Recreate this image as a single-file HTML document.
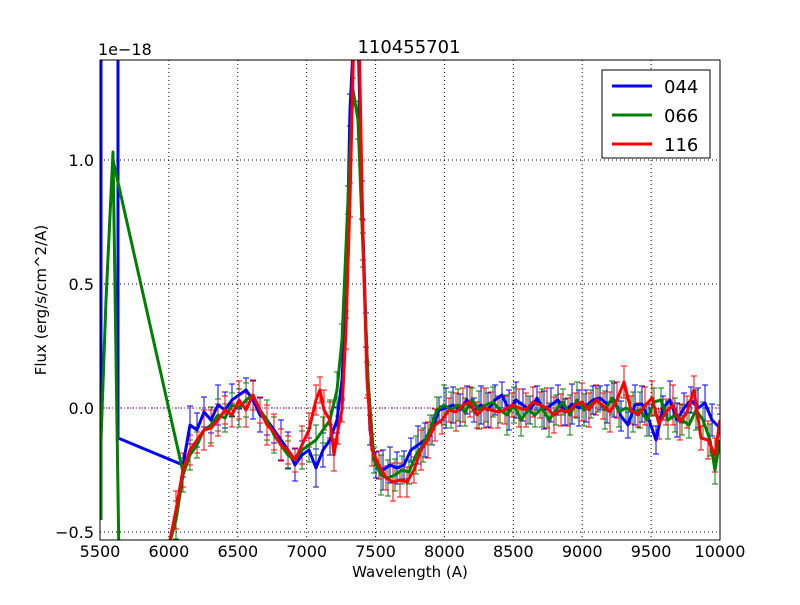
<!DOCTYPE html>
<html><head><meta charset="utf-8"><style>
body{margin:0;background:#fff;}
svg text{font-family:"DejaVu Sans","Liberation Sans",sans-serif;}
</style></head><body>
<svg id="s" width="800" height="600" xmlns="http://www.w3.org/2000/svg">
<rect width="800" height="600" fill="#fff"/>
<defs><clipPath id="c"><rect x="100" y="60" width="620" height="480"/></clipPath></defs>
<g stroke="#000" stroke-width="1" stroke-dasharray="1,3">
<line x1="168.9" y1="60" x2="168.9" y2="540"/><line x1="237.8" y1="60" x2="237.8" y2="540"/>
<line x1="306.7" y1="60" x2="306.7" y2="540"/><line x1="375.6" y1="60" x2="375.6" y2="540"/>
<line x1="444.4" y1="60" x2="444.4" y2="540"/><line x1="513.3" y1="60" x2="513.3" y2="540"/>
<line x1="582.2" y1="60" x2="582.2" y2="540"/><line x1="651.1" y1="60" x2="651.1" y2="540"/>
<line x1="100" y1="160" x2="720" y2="160"/><line x1="100" y1="284" x2="720" y2="284"/>
<line x1="100" y1="408" x2="720" y2="408"/><line x1="100" y1="532" x2="720" y2="532"/>
</g>
<g clip-path="url(#c)" id="plot">
<line x1="100" y1="408" x2="720" y2="408" stroke="#00f" stroke-dasharray="1,2"/>
<line x1="100" y1="408" x2="720" y2="408" stroke="#f00" stroke-dasharray="1,3"/>
</g>
<rect x="100" y="60" width="620" height="480" fill="none" stroke="#000"/>
<g font-size="16" text-anchor="middle" fill="#000">
<text x="100" y="557">5500</text><text x="168.9" y="557">6000</text><text x="237.8" y="557">6500</text>
<text x="306.7" y="557">7000</text><text x="375.6" y="557">7500</text><text x="444.4" y="557">8000</text>
<text x="513.3" y="557">8500</text><text x="582.2" y="557">9000</text><text x="651.1" y="557">9500</text>
<text x="720" y="557">10000</text>
<text x="410" y="577" font-size="15">Wavelength (A)</text>
<text x="409" y="53" font-size="18">110455701</text>
</g>
<g font-size="16" text-anchor="end">
<text x="94" y="166">1.0</text><text x="94" y="290">0.5</text><text x="94" y="414">0.0</text><text x="94" y="538">−0.5</text>
</g>
<text x="98" y="55" font-size="16">1e−18</text>
<text transform="translate(46,300) rotate(-90)" font-size="15" text-anchor="middle">Flux (erg/s/cm^2/A)</text>
<rect x="602" y="70" width="108" height="88" fill="#fff" stroke="#000"/>
<line x1="612" y1="86" x2="652" y2="86" stroke="#00f" stroke-width="3"/>
<line x1="612" y1="115" x2="652" y2="115" stroke="#008000" stroke-width="3"/>
<line x1="612" y1="144" x2="652" y2="144" stroke="#f00" stroke-width="3"/>
<g font-size="18"><text x="664" y="93">044</text><text x="664" y="122">066</text><text x="664" y="151">116</text></g>
</svg>
<script>
var B=[[101,470],[101,0],[108,-400],[114,0],[118,60],[118,438],[183,465],[190,425],[197,430],[204,412],[211,420],[218,405],[225,410],[232,400],[239,395],[246,390],[253,400],[260,415],[267,420],[274,430],[281,440],[288,450],[295,465],[302,455],[309,450],[316,468],[323,450],[330,440],[337,420],[342,380],[346,300],[350,110],[354,30],[358,30],[362,200],[366,330],[370,430],[376,465],[383,470],[390,465],[397,468],[404,465],[411,450],[418,445],[425,440],[432,430],[439,410],[446,408],[453,405],[460,410],[467,400],[474,410],[481,405],[488,410],[495,400],[502,395],[509,410],[516,400],[523,405],[530,410],[537,398],[544,410],[551,405],[558,400],[565,412],[572,404],[579,408],[586,406],[593,400],[600,398],[607,404],[614,400],[621,416],[628,425],[635,405],[642,404],[649,420],[656,440],[663,408],[670,400],[677,420],[684,408],[691,400],[698,408],[705,403],[712,420],[720,428]];
var G1=[[101,520],[101,440],[106,300],[113,152],[119,560]];
var G2=[[113,160],[183,472]];
var G=[[165,560],[176,520],[183,475],[190,455],[197,445],[204,430],[211,425],[218,415],[225,418],[232,405],[239,408],[246,400],[253,395],[260,410],[267,420],[274,435],[281,445],[288,455],[295,460],[302,450],[309,445],[316,440],[323,430],[330,420],[337,390],[342,340],[348,200],[353,90],[358,120],[363,250],[368,380],[374,460],[381,475],[388,478],[395,475],[402,470],[409,472],[416,455],[423,445],[430,430],[437,410],[444,405],[451,410],[458,405],[465,412],[472,400],[479,410],[486,405],[493,402],[500,410],[507,415],[514,405],[521,420],[528,410],[535,415],[542,408],[549,420],[556,410],[563,402],[570,415],[577,400],[584,410],[591,404],[598,400],[605,410],[612,398],[619,412],[626,408],[633,412],[640,410],[647,420],[654,402],[661,400],[668,420],[675,415],[682,420],[689,425],[696,410],[703,420],[710,440],[715,470],[720,440]];
var R=[[166,560],[176,510],[183,470],[190,450],[197,440],[204,430],[211,428],[218,420],[225,410],[232,415],[239,400],[246,410],[253,395],[260,410],[267,425],[274,432],[281,445],[288,450],[295,460],[302,445],[309,430],[316,400],[320,390],[324,410],[330,420],[334,455],[338,430],[342,410],[346,330],[350,200],[354,30],[359,30],[363,240],[367,380],[372,450],[379,465],[386,478],[393,482],[400,480],[407,482],[414,470],[421,450],[428,440],[435,425],[442,420],[449,410],[456,412],[463,405],[470,402],[477,415],[484,408],[491,410],[498,412],[505,410],[512,405],[519,408],[526,410],[533,402],[540,405],[547,408],[554,415],[561,410],[568,412],[575,405],[582,402],[589,410],[596,400],[603,406],[610,412],[617,400],[624,382],[631,410],[638,415],[645,406],[652,398],[659,424],[666,412],[673,405],[680,422],[687,412],[694,390],[701,438],[708,440],[715,455],[720,420]];
var p=document.getElementById('plot'),ns='http://www.w3.org/2000/svg';
function el(t,a){var e=document.createElementNS(ns,t);for(var k in a)e.setAttribute(k,a[k]);p.appendChild(e);}
function eb(d,c){d.forEach(function(q,i){var h=12+((i*7)%9);el('path',{d:'M'+q[0]+' '+(q[1]-h)+'V'+(q[1]+h)+'M'+(q[0]-3)+' '+(q[1]-h)+'h6M'+(q[0]-3)+' '+(q[1]+h)+'h6',stroke:c,'stroke-width':1,fill:'none'});});}
function ln(d,c){el('polyline',{points:d.map(function(q){return q.join(',')}).join(' '),stroke:c,'stroke-width':3,fill:'none','stroke-linejoin':'round'});}
eb(B.slice(6),'#00f');eb(G,'#008000');eb(R,'#f00');
ln(B,'#00f');ln(G1,'#008000');ln(G2,'#008000');ln(G,'#008000');ln(R,'#f00');
</script>
</body></html>
